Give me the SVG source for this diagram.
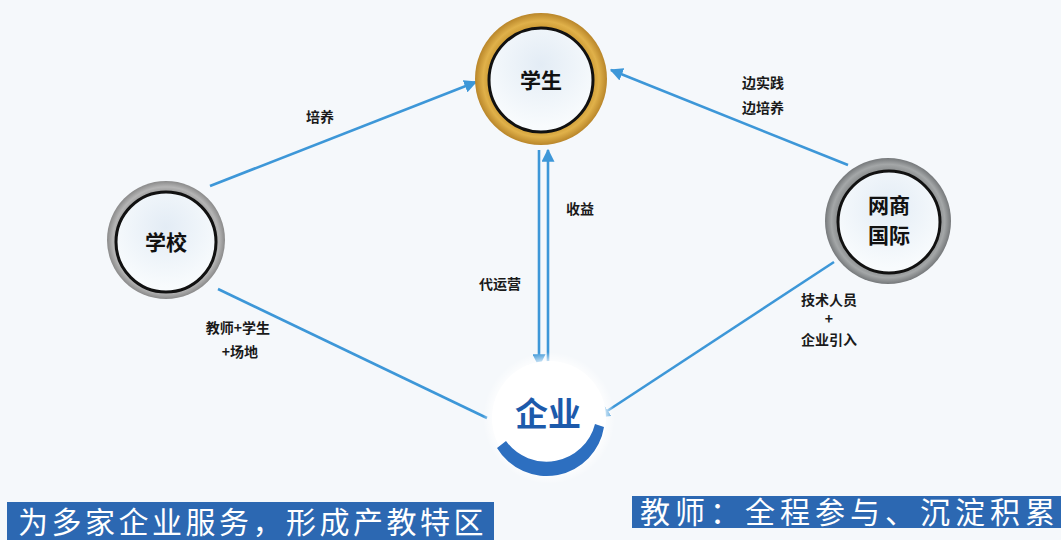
<svg xmlns="http://www.w3.org/2000/svg" width="1061" height="540" viewBox="0 0 1061 540">
<defs>
<style>
.lbl{font-family:"Noto Sans CJK SC","Noto Sans",sans-serif;font-weight:700;font-size:14px;fill:#1a1a1a;text-anchor:middle}
.node{font-family:"Noto Sans CJK SC","Noto Sans",sans-serif;font-weight:700;font-size:21px;fill:#111;text-anchor:middle}
.ban{font-family:"Noto Sans CJK SC","Noto Sans",sans-serif;font-size:30px;fill:#fff}
.edge{stroke:#3d97d8;stroke-width:2.6;fill:none}
.inner{fill:url(#innerG);stroke:#111;stroke-width:3}
</style>
<radialGradient id="goldG" cx="0.5" cy="0.5" r="0.5">
<stop offset="0.75" stop-color="#c8952e"/>
<stop offset="0.88" stop-color="#e0b14a"/>
<stop offset="1" stop-color="#b9862a"/>
</radialGradient>
<radialGradient id="grayG" cx="0.5" cy="0.5" r="0.5">
<stop offset="0.78" stop-color="#8e8e8e"/>
<stop offset="0.9" stop-color="#b5b5b5"/>
<stop offset="1" stop-color="#8a8a8a"/>
</radialGradient>
<radialGradient id="grayG2" cx="0.5" cy="0.5" r="0.5">
<stop offset="0.75" stop-color="#7c7f80"/>
<stop offset="0.9" stop-color="#a4a7a8"/>
<stop offset="1" stop-color="#75787a"/>
</radialGradient>
<radialGradient id="innerG" cx="0.5" cy="0.35" r="0.6">
<stop offset="0" stop-color="#e3ecf5"/>
<stop offset="1" stop-color="#f8fbfd"/>
</radialGradient>
<radialGradient id="glow" cx="0.5" cy="0.5" r="0.5">
<stop offset="0.8" stop-color="#ffffff"/>
<stop offset="1" stop-color="#ffffff" stop-opacity="0"/>
</radialGradient>
<marker id="arr" viewBox="0 0 10 10" refX="9" refY="5" markerWidth="5" markerHeight="5" orient="auto-start-reverse" markerUnits="strokeWidth">
<path d="M0,0 L10,5 L0,10 z" fill="#3d97d8"/>
</marker>
</defs>
<rect width="1061" height="540" fill="#f5f8fb"/>

<g id="connectors">
<line class="edge" x1="210" y1="186" x2="476" y2="82" marker-end="url(#arr)"/>
<line class="edge" x1="848" y1="165" x2="611" y2="70" marker-end="url(#arr)"/>
<line class="edge" x1="548" y1="368" x2="548" y2="150" marker-end="url(#arr)"/>
<line class="edge" x1="539" y1="150" x2="539" y2="366" marker-end="url(#arr)"/>
<line class="edge" x1="218" y1="289" x2="487" y2="418"/>
<line class="edge" x1="834" y1="262" x2="598" y2="417" marker-end="url(#arr)"/>
</g>

<g id="labels">
<text class="lbl" x="320" y="122">培养</text>
<text class="lbl" x="763" y="88">边实践</text>
<text class="lbl" x="763" y="113">边培养</text>
<text class="lbl" x="580" y="214">收益</text>
<text class="lbl" x="500" y="289">代运营</text>
<text class="lbl" x="238" y="333">教师+学生</text>
<text class="lbl" x="240" y="357">+场地</text>
<text class="lbl" x="829" y="305">技术人员</text>
<text class="lbl" x="829" y="324">+</text>
<text class="lbl" x="829" y="345">企业引入</text>
</g>

<g id="node-student">
<circle cx="541" cy="79" r="66" fill="url(#goldG)"/>
<circle class="inner" cx="541" cy="80" r="52"/>
<text class="node" x="541" y="88">学生</text>
</g>

<g id="node-school">
<circle cx="166" cy="240" r="59" fill="url(#grayG)"/>
<circle class="inner" cx="166" cy="242" r="50"/>
<text class="node" x="166" y="250">学校</text>
</g>

<g id="node-wangshang">
<circle cx="888" cy="221" r="63" fill="url(#grayG2)"/>
<circle class="inner" cx="889" cy="222" r="51"/>
<text class="node" x="889" y="213">网商</text>
<text class="node" x="889" y="243">国际</text>
</g>

<g id="node-enterprise">
<circle cx="549" cy="418" r="66" fill="url(#glow)"/>
<circle cx="549" cy="418" r="57" fill="#ffffff"/>
<path d="M604,427 A58,58 0 0 1 497,448 L506,441 A50,50 0 0 0 595,424 Z" fill="#2d6fc0"/>
<text x="548" y="426" font-family="'Noto Sans CJK SC','Noto Sans',sans-serif" font-weight="700" font-size="33" fill="#1c5aab" text-anchor="middle">企业</text>
</g>

<g id="banner-left">
<rect x="7" y="502" width="487" height="40" fill="#2c68b2"/>
<text class="ban" x="18" y="533" letter-spacing="3.5">为多家企业服务，形成产教特区</text>
</g>

<g id="banner-right">
<rect x="632" y="496" width="429" height="32" fill="#2c68b2"/>
<text class="ban" x="640" y="523" letter-spacing="5">教师：全程参与、沉淀积累</text>
</g>
</svg>
